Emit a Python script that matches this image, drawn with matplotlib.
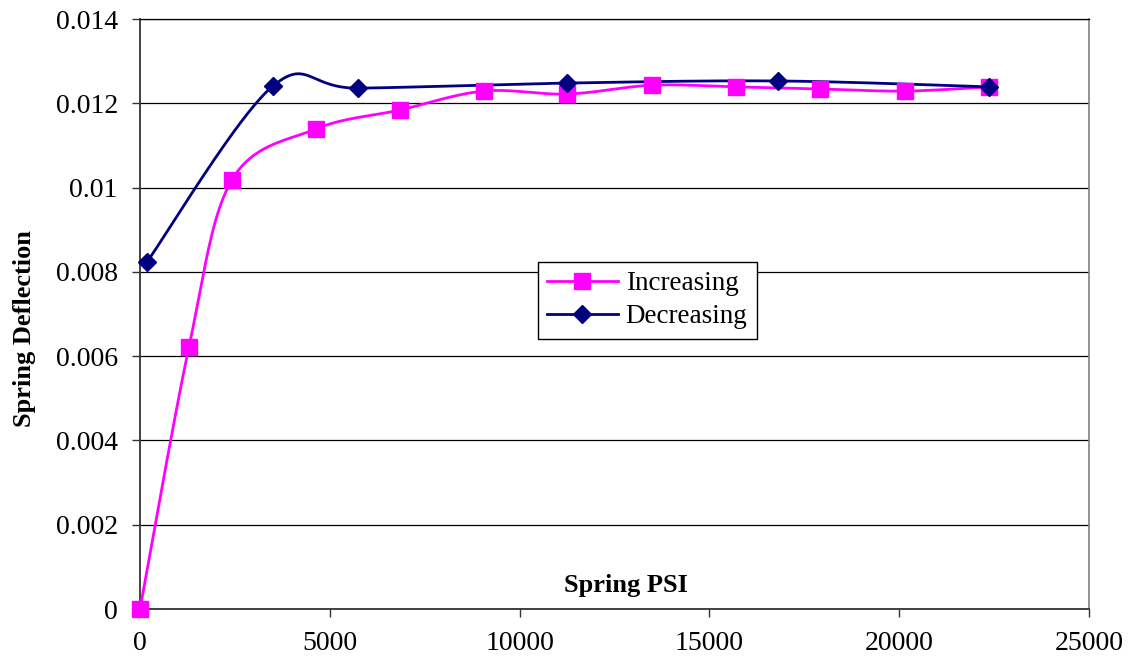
"""
Spring deflection vs spring pressure, loading and unloading
"""

from matplotlib import pyplot as plt
import numpy as np

# loading (increasing pressure)
psi_inc = [0, 1290, 2420, 4630, 6840, 9050, 11260, 13500, 15710, 17920, 20160, 22370]
defl_inc = [0.0, 0.00622, 0.01018, 0.01139, 0.01184, 0.01229, 0.01222, 0.01243,
            0.01239, 0.01234, 0.01229, 0.01239]

# unloading (decreasing pressure)
psi_dec = [180, 3500, 5740, 11260, 16820, 22370]
defl_dec = [0.00823, 0.01241, 0.01236, 0.01248, 0.01253, 0.01239]

x_ticks = [0, 5000, 10000, 15000, 20000, 25000]
y_ticks = [0, 0.002, 0.004, 0.006, 0.008, 0.01, 0.012, 0.014]
y_tick_labels = ['0', '0.002', '0.004', '0.006', '0.008', '0.01', '0.012', '0.014']


def smooth(x, y, n=40):
    """spreadsheet style smoothed line: cubic bezier through every point"""
    p = np.column_stack([x, y]).astype(float)
    ext = np.vstack([p[0], p, p[-1]])
    out = []
    for i in range(len(p) - 1):
        p0, p1 = p[i], p[i + 1]
        c0 = p0 + (ext[i + 2] - ext[i]) / 6.0
        c1 = p1 - (ext[i + 3] - ext[i + 1]) / 6.0
        t = np.linspace(0, 1, n)[:, None]
        seg = ((1 - t) ** 3) * p0 + 3 * ((1 - t) ** 2) * t * c0 \
            + 3 * (1 - t) * t ** 2 * c1 + t ** 3 * p1
        out.append(seg if i == 0 else seg[1:])
    out = np.vstack(out)
    return out[:, 0], out[:, 1]


def plot_deflection():
    plt.rcParams['font.family'] = ['Liberation Serif', 'DejaVu Serif']
    fig = plt.figure(figsize=(11.3, 6.56), dpi=100)
    ax = fig.add_axes([0.1239, 0.0716, 0.8398, 0.8994])

    pink = '#FF00FF'
    navy = '#000080'

    'smoothed curves, markers on the data points'
    sx, sy = smooth(psi_inc, defl_inc)
    ax.plot(sx, sy, color=pink, lw=2, zorder=3)
    sx, sy = smooth(psi_dec, defl_dec)
    ax.plot(sx, sy, color=navy, lw=2, zorder=3)
    ax.plot(psi_inc, defl_inc, ls='none', marker='s', ms=11, color=pink,
            mec=pink, zorder=4, clip_on=False)
    ax.plot(psi_dec, defl_dec, ls='none', marker='D', ms=9, color=navy,
            mec=navy, zorder=5, clip_on=False)

    'legend entries'
    h1, = ax.plot([], [], color=pink, lw=2, marker='s', ms=11, mec=pink)
    h2, = ax.plot([], [], color=navy, lw=2, marker='D', ms=9, mec=navy)
    leg = ax.legend([h1, h2], ['Increasing', 'Decreasing'], loc='upper left',
                    bbox_to_anchor=(0.419, 0.589), fontsize=19.5, fancybox=False,
                    framealpha=1, edgecolor='black', handlelength=2.6,
                    borderpad=0.35, labelspacing=0.3, handletextpad=0.3,
                    borderaxespad=0)
    leg.get_frame().set_linewidth(1.0)

    ax.set_xlim(0, 25000)
    ax.set_ylim(0, 0.014)
    ax.set_xticks(x_ticks)
    ax.set_xticklabels([str(v) for v in x_ticks])
    ax.set_yticks(y_ticks)
    ax.set_yticklabels(y_tick_labels)
    ax.tick_params(axis='both', direction='out', length=6, width=1,
                   labelsize=20, color='#333333')
    ax.tick_params(axis='x', pad=10)
    ax.tick_params(axis='y', pad=10)

    ax.yaxis.grid(True, color='black', lw=0.9)
    ax.set_axisbelow(True)
    for side in ['left', 'bottom']:
        ax.spines[side].set_color('#333333')
        ax.spines[side].set_linewidth(1.3)
    ax.spines['right'].set_color('#808080')
    ax.spines['top'].set_color('black')
    ax.spines['right'].set_linewidth(1.2)
    ax.spines['top'].set_linewidth(0.9)

    ax.set_xlabel('Spring PSI', fontsize=19, fontweight='bold')
    ax.xaxis.set_label_coords(0.512, 0.059)
    ax.set_ylabel('Spring Deflection', fontsize=19, fontweight='bold')
    ax.yaxis.set_label_coords(-0.11, 0.475)

    fig.savefig('out.png', dpi=100)


if __name__ == '__main__':
    plot_deflection()
